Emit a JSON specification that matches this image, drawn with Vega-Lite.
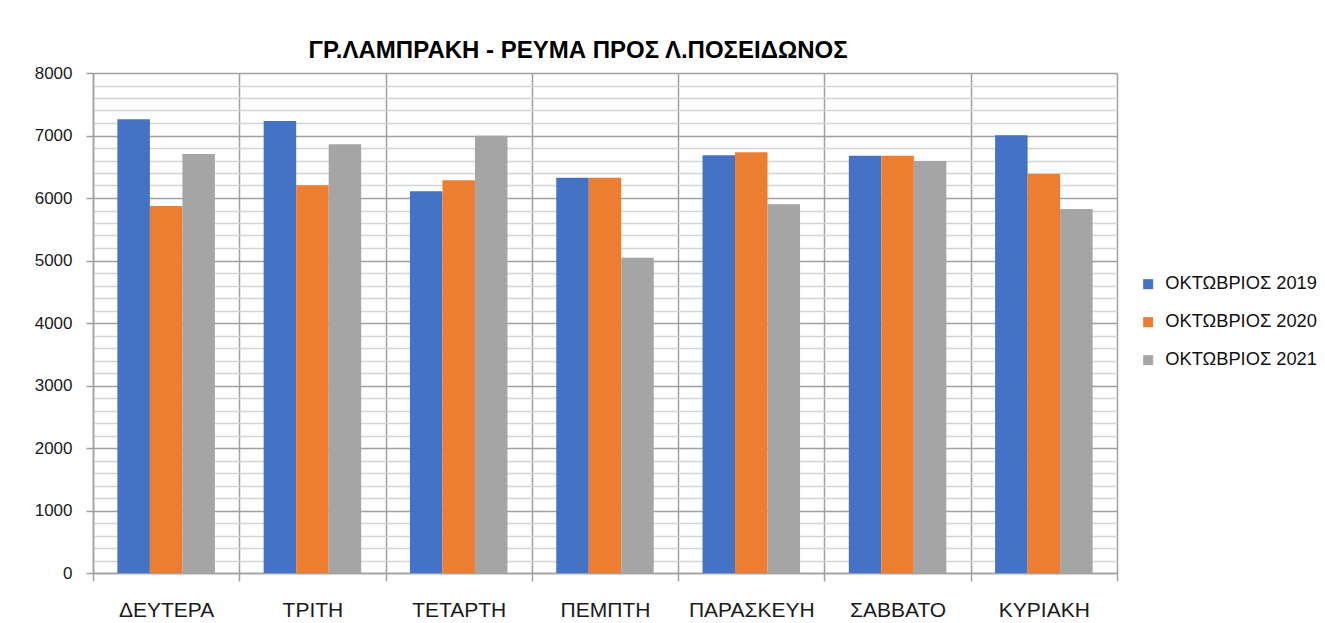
{
  "$schema": "https://vega.github.io/schema/vega-lite/v6.json",
  "width": 1024,
  "height": 500,
  "autosize": {"type": "none"},
  "padding": {"left": 93, "top": 73, "right": 208, "bottom": 50},
  "background": "white",
  "title": {
    "text": "ΓΡ.ΛΑΜΠΡΑΚΗ - ΡΕΥΜΑ ΠΡΟΣ Λ.ΠΟΣΕΙΔΩΝΟΣ",
    "font": "Liberation Sans",
    "fontSize": 24,
    "fontWeight": "bold",
    "color": "#000000",
    "anchor": "middle",
    "frame": "group",
    "dx": -27,
    "baseline": "alphabetic",
    "offset": -18
  },
  "config": {
    "view": {"stroke": null},
    "axis": {"labelFont": "Liberation Sans", "labelColor": "#1a1a1a"},
    "legend": {"labelFont": "Liberation Sans"}
  },
  "data": {
    "values": [
      {"day": "ΔΕΥΤΕΡΑ", "series": "ΟΚΤΩΒΡΙΟΣ 2019", "value": 7260},
      {"day": "ΔΕΥΤΕΡΑ", "series": "ΟΚΤΩΒΡΙΟΣ 2020", "value": 5872},
      {"day": "ΔΕΥΤΕΡΑ", "series": "ΟΚΤΩΒΡΙΟΣ 2021", "value": 6704},
      {"day": "ΤΡΙΤΗ", "series": "ΟΚΤΩΒΡΙΟΣ 2019", "value": 7232},
      {"day": "ΤΡΙΤΗ", "series": "ΟΚΤΩΒΡΙΟΣ 2020", "value": 6203},
      {"day": "ΤΡΙΤΗ", "series": "ΟΚΤΩΒΡΙΟΣ 2021", "value": 6859},
      {"day": "ΤΕΤΑΡΤΗ", "series": "ΟΚΤΩΒΡΙΟΣ 2019", "value": 6107},
      {"day": "ΤΕΤΑΡΤΗ", "series": "ΟΚΤΩΒΡΙΟΣ 2020", "value": 6283},
      {"day": "ΤΕΤΑΡΤΗ", "series": "ΟΚΤΩΒΡΙΟΣ 2021", "value": 6997},
      {"day": "ΠΕΜΠΤΗ", "series": "ΟΚΤΩΒΡΙΟΣ 2019", "value": 6325},
      {"day": "ΠΕΜΠΤΗ", "series": "ΟΚΤΩΒΡΙΟΣ 2020", "value": 6325},
      {"day": "ΠΕΜΠΤΗ", "series": "ΟΚΤΩΒΡΙΟΣ 2021", "value": 5045},
      {"day": "ΠΑΡΑΣΚΕΥΗ", "series": "ΟΚΤΩΒΡΙΟΣ 2019", "value": 6683},
      {"day": "ΠΑΡΑΣΚΕΥΗ", "series": "ΟΚΤΩΒΡΙΟΣ 2020", "value": 6731},
      {"day": "ΠΑΡΑΣΚΕΥΗ", "series": "ΟΚΤΩΒΡΙΟΣ 2021", "value": 5899},
      {"day": "ΣΑΒΒΑΤΟ", "series": "ΟΚΤΩΒΡΙΟΣ 2019", "value": 6677},
      {"day": "ΣΑΒΒΑΤΟ", "series": "ΟΚΤΩΒΡΙΟΣ 2020", "value": 6677},
      {"day": "ΣΑΒΒΑΤΟ", "series": "ΟΚΤΩΒΡΙΟΣ 2021", "value": 6592},
      {"day": "ΚΥΡΙΑΚΗ", "series": "ΟΚΤΩΒΡΙΟΣ 2019", "value": 7003},
      {"day": "ΚΥΡΙΑΚΗ", "series": "ΟΚΤΩΒΡΙΟΣ 2020", "value": 6384},
      {"day": "ΚΥΡΙΑΚΗ", "series": "ΟΚΤΩΒΡΙΟΣ 2021", "value": 5824}
    ]
  },
  "mark": {"type": "bar"},
  "encoding": {
    "x": {
      "field": "day",
      "type": "nominal",
      "sort": null,
      "title": null,
      "scale": {"paddingInner": 0, "paddingOuter": 0},
      "axis": {
        "labelAngle": 0,
        "labelFontSize": 21,
        "labelPadding": 18,
        "tickBand": "extent",
        "grid": true,
        "gridColor": "#a0a0a0",
        "gridWidth": 1.5,
        "domainColor": "#a0a0a0",
        "domainWidth": 1.5,
        "tickColor": "#a0a0a0",
        "tickWidth": 1.5,
        "tickSize": 8
      }
    },
    "xOffset": {
      "field": "series",
      "type": "nominal",
      "scale": {"paddingInner": 0, "paddingOuter": 0.75}
    },
    "y": {
      "field": "value",
      "type": "quantitative",
      "title": null,
      "scale": {"domain": [0, 8000], "nice": false},
      "axis": {
        "values": [0, 200, 400, 600, 800, 1000, 1200, 1400, 1600, 1800, 2000, 2200, 2400, 2600, 2800, 3000, 3200, 3400, 3600, 3800, 4000, 4200, 4400, 4600, 4800, 5000, 5200, 5400, 5600, 5800, 6000, 6200, 6400, 6600, 6800, 7000, 7200, 7400, 7600, 7800, 8000],
        "labelExpr": "datum.value % 1000 === 0 ? datum.value + '' : ''",
        "labelFontSize": 17,
        "labelPadding": 14,
        "grid": true,
        "gridWidth": 1.5,
        "gridColor": {"condition": {"test": "datum.value % 1000 === 0", "value": "#a0a0a0"}, "value": "#d4d4d4"},
        "tickOpacity": {"condition": {"test": "datum.value % 1000 === 0", "value": 1}, "value": 0},
        "tickColor": "#a0a0a0",
        "tickWidth": 1.5,
        "tickSize": 7,
        "domainColor": "#a0a0a0",
        "domainWidth": 1.5
      }
    },
    "color": {
      "field": "series",
      "type": "nominal",
      "scale": {
        "domain": ["ΟΚΤΩΒΡΙΟΣ 2019", "ΟΚΤΩΒΡΙΟΣ 2020", "ΟΚΤΩΒΡΙΟΣ 2021"],
        "range": ["#4472C4", "#ED7D31", "#A5A5A5"]
      },
      "legend": {
        "title": null,
        "orient": "none",
        "legendX": 1046,
        "legendY": 202,
        "padding": 0,
        "symbolType": "square",
        "symbolSize": 100,
        "symbolStrokeWidth": 0,
        "labelFontSize": 18.3,
        "labelColor": "#111111",
        "labelOffset": 8,
        "rowPadding": 19
      }
    }
  }
}
